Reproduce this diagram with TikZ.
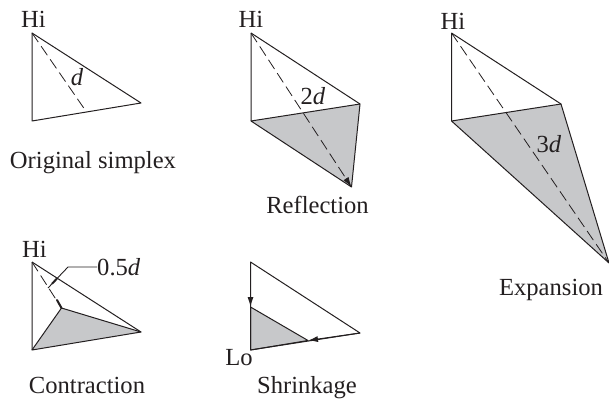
\documentclass[tikz,border=0pt]{standalone}
\usepackage{fontspec}
\setmainfont{Liberation Serif}
\usetikzlibrary{arrows.meta}
\definecolor{ink}{HTML}{231F20}
\definecolor{shade}{HTML}{C7C8CA}
\tikzset{
  lbl/.style={inner sep=0pt,text=ink,font=\fontsize{24.6}{28}\selectfont,anchor=base},
  edge/.style={draw=ink,line width=1pt,line join=round},
  fillface/.style={fill=shade,draw=ink,line width=1pt,line join=round},
  dash line/.style={draw=ink,line width=0.8pt,dash pattern=on 11pt off 5pt},
  tip/.style={-{Latex[length=10pt,width=6pt]}}
}
\begin{document}
\begin{tikzpicture}[x=1pt,y=-1pt]
\useasboundingbox (0,0) rectangle (609,398);
% Original
\coordinate (aH) at (32,33); \coordinate (aB) at (32,121); \coordinate (aR) at (141,103); \coordinate (aM) at (86.5,112);
\draw[edge] (aH) -- (aB) -- (aR) -- cycle;
\draw[dash line] (aH) -- (aM);
\node[lbl] (aHi) at (33.5,28) {Hi};
\node[lbl] (ad) at (77,86) {\textit{d}};
\node[lbl] (acap) at (93,168) {Original simplex};
% Reflection
\coordinate (bH) at (251,33); \coordinate (bB) at (251,121); \coordinate (bR) at (360,104); \coordinate (bT) at (351.5,187);
\draw[fillface] (bB) -- (bR) -- (bT) -- cycle;
\draw[edge] (bH) -- (bB) (bH) -- (bR);
\draw[dash line,tip] (bH) -- (bT);
\node[lbl] (bHi) at (251,28) {Hi};
\node[lbl] (bd) at (313,105) {2\textit{d}};
\node[lbl] (bcap) at (317.5,213) {Reflection};
% Expansion
\coordinate (cH) at (451.5,33); \coordinate (cB) at (451.5,121); \coordinate (cR) at (561,104); \coordinate (cT) at (609,263);
\draw[fillface] (cB) -- (cR) -- (cT) -- cycle;
\draw[edge] (cH) -- (cB) (cH) -- (cR);
\draw[dash line] (cH) -- (cT);
\node[lbl] (cHi) at (453,30) {Hi};
\node[lbl] (cd) at (549,152) {3\textit{d}};
\node[lbl] (ccap) at (551,295) {Expansion};
% Contraction
\coordinate (dH) at (32,262); \coordinate (dB) at (32,350); \coordinate (dR) at (141,332); \coordinate (dI) at (61.5,308);
\coordinate (dK) at (68,267); \coordinate (dL) at (48,288); \coordinate (dS) at (57,278.5); \coordinate (dE) at (52,283.8);
\draw[fillface] (dB) -- (dI) -- (dR) -- cycle;
\draw[edge] (dH) -- (dB) (dH) -- (dR);
\draw[dash line] (dH) -- (dI);
\draw[draw=ink,line width=2pt,line cap=round] (57,300) -- (dI);
\node[lbl,anchor=base west] (dlab) at (97,275) {0.5\textit{d}};
\draw[draw=ink,line width=0.9pt] (dlab.west |- dK) -- (dK) -- (dL);
\draw[draw=ink,line width=2pt] (dE) -- (dS);
\node[lbl] (dHi) at (34.3,257) {Hi};
\node[lbl] (dcap) at (87,393) {Contraction};
% Shrinkage
\coordinate (eT) at (250.5,262); \coordinate (eB) at (250.5,350); \coordinate (eR) at (360,333); \coordinate (eP) at (250.5,307); \coordinate (eQ) at (308,340.5);
\draw[fillface] (eB) -- (eP) -- (eQ) -- cycle;
\draw[edge] (eT) -- (eB) -- (eR) -- cycle;
\draw[edge,tip] (eT) -- (eP);
\draw[edge,tip] (eR) -- (eQ);
\node[lbl] (eLo) at (239,365) {Lo};
\node[lbl] (ecap) at (307,393) {Shrinkage};
\end{tikzpicture}
\end{document}
